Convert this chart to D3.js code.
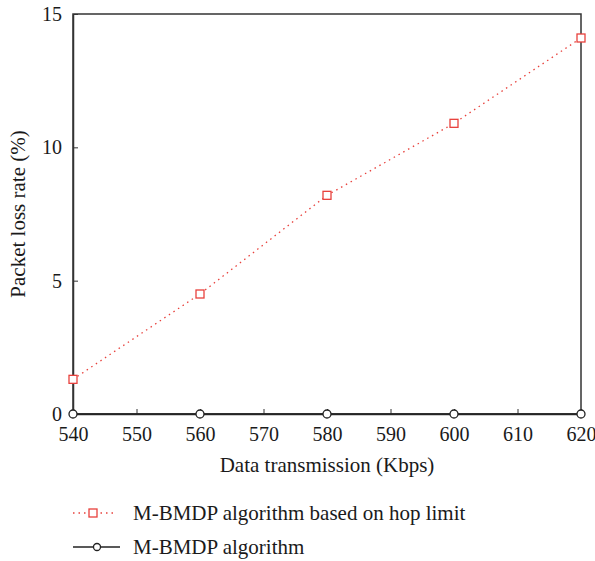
<!DOCTYPE html>
<html>
<head>
<meta charset="utf-8">
<script src="https://cdn.jsdelivr.net/npm/d3@7"></script>
<style>
  body { margin: 0; background: #fff; }
  svg text { font-family: "Liberation Serif"; fill: #1a1a1a; }
</style>
</head>
<body>
<div id="stage"></div>
<script>
const rates = [540, 560, 580, 600, 620];
const hopLimit = [1.3, 4.5, 8.2, 10.9, 14.1];
const plain = [0, 0, 0, 0, 0];
const xTicks = [540, 550, 560, 570, 580, 590, 600, 610, 620];
const yTicks = [0, 5, 10, 15];
const seriesNames = ['M-BMDP algorithm based on hop limit', 'M-BMDP algorithm'];

const width = 595, height = 561;
const margin = {left: 73, right: 14, top: 14, bottom: 147};

const svg = d3.select('#stage')
    .append('svg')
    .attr('width', width)
    .attr('height', height);

const x = d3.scaleLinear().domain([540, 620]).range([margin.left, width - margin.right]);
const y = d3.scaleLinear().domain([0, 15]).range([height - margin.bottom, margin.top]);

// frame
svg.append('rect')
    .attr('x', x(540)).attr('y', y(15))
    .attr('width', x(620) - x(540)).attr('height', y(0) - y(15))
    .attr('fill', 'none').attr('stroke', '#333').attr('stroke-width', 1.5);

// axes with inward ticks
const xAxis = svg.append('g')
    .attr('transform', `translate(0,${y(0)})`)
    .call(d3.axisBottom(x).tickValues(xTicks).tickSizeInner(-5).tickSizeOuter(0).tickPadding(13));
const yAxis = svg.append('g')
    .attr('transform', `translate(${x(540)},0)`)
    .call(d3.axisLeft(y).tickValues(yTicks).tickSizeInner(-5).tickSizeOuter(0).tickPadding(11));

[xAxis, yAxis].forEach(g => {
    g.attr('font-family', null);
    g.select('.domain').attr('stroke', '#333').attr('stroke-width', 1.5);
    g.selectAll('.tick line').attr('stroke', '#333');
    g.selectAll('.tick text').attr('font-size', 20).attr('fill', '#1a1a1a');
});

svg.append('text')
    .attr('x', (x(540) + x(620)) / 2).attr('y', 472)
    .attr('text-anchor', 'middle').attr('font-size', 21)
    .text('Data transmission (Kbps)');

svg.append('text')
    .attr('transform', `translate(25,${(y(0) + y(15)) / 2}) rotate(-90)`)
    .attr('text-anchor', 'middle').attr('font-size', 21)
    .text('Packet loss rate (%)');

const line = d3.line().x((d, i) => x(rates[i])).y(d => y(d));

// red dotted series
svg.append('path').datum(hopLimit)
    .attr('d', line).attr('fill', 'none')
    .attr('stroke', '#e8413c').attr('stroke-width', 1.3).attr('stroke-dasharray', '1.5,4');
svg.selectAll('.sq').data(hopLimit).join('rect')
    .attr('class', 'sq')
    .attr('x', (d, i) => x(rates[i]) - 4).attr('y', d => y(d) - 4)
    .attr('width', 8).attr('height', 8)
    .attr('fill', '#fff').attr('stroke', '#e8413c').attr('stroke-width', 1.3);

// black series
svg.append('path').datum(plain)
    .attr('d', line).attr('fill', 'none')
    .attr('stroke', '#222').attr('stroke-width', 1.5);
svg.selectAll('.circ').data(plain).join('circle')
    .attr('class', 'circ')
    .attr('cx', (d, i) => x(rates[i])).attr('cy', d => y(d)).attr('r', 4)
    .attr('fill', '#fff').attr('stroke', '#222').attr('stroke-width', 1.3);

// legend
const legend = svg.append('g');
const ly = [513, 547];
legend.append('line')
    .attr('x1', 73).attr('x2', 113).attr('y1', ly[0]).attr('y2', ly[0])
    .attr('stroke', '#e8413c').attr('stroke-width', 1.3).attr('stroke-dasharray', '1.5,4');
legend.append('rect')
    .attr('x', 89).attr('y', ly[0] - 4).attr('width', 8).attr('height', 8)
    .attr('fill', '#fff').attr('stroke', '#e8413c').attr('stroke-width', 1.3);
legend.append('line')
    .attr('x1', 73).attr('x2', 120).attr('y1', ly[1]).attr('y2', ly[1])
    .attr('stroke', '#222').attr('stroke-width', 1.5);
legend.append('circle')
    .attr('cx', 97).attr('cy', ly[1]).attr('r', 3.5)
    .attr('fill', '#fff').attr('stroke', '#222').attr('stroke-width', 1.3);
legend.selectAll('text').data(seriesNames).join('text')
    .attr('x', 133).attr('y', (d, i) => ly[i]).attr('dy', '0.35em')
    .attr('font-size', 21).text(d => d);
</script>
</body>
</html>
